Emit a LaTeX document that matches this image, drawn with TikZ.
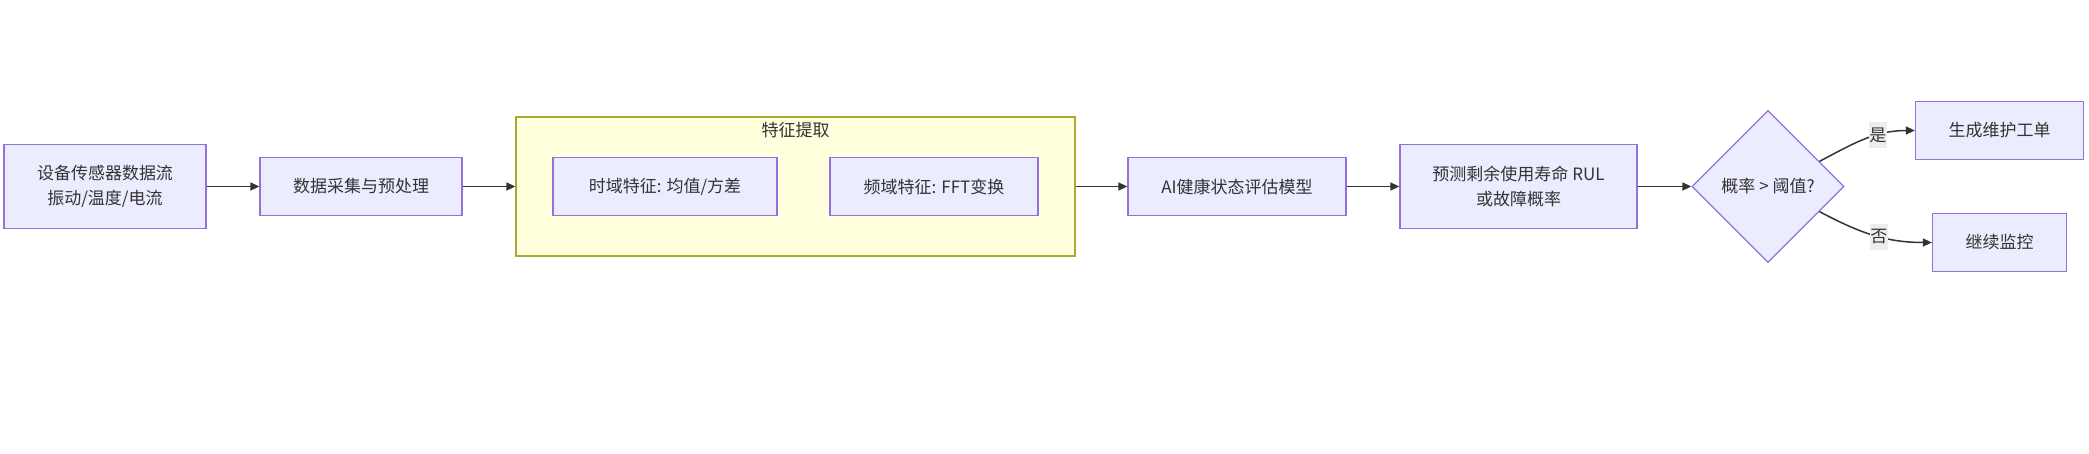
\documentclass[tikz,border=0pt]{standalone}
\usepackage{fontspec}
\setmainfont{Noto Sans CJK SC}
\usetikzlibrary{shapes.geometric,arrows.meta}
\definecolor{nodefill}{HTML}{ECECFF}
\definecolor{nodeline}{HTML}{9370DB}
\definecolor{groupfill}{HTML}{FFFFDE}
\definecolor{groupline}{HTML}{AAAA33}
\definecolor{linecol}{HTML}{333333}
\definecolor{labelfill}{HTML}{EDEDED}

\begin{document}
\begin{tikzpicture}[x=1pt,y=-1pt,
  every node/.style={font=\fontsize{17}{25}\selectfont,text=linecol},
  box/.style={draw=nodeline,fill=nodefill,line width=1.3pt,align=center,inner sep=0pt,minimum height=58pt},
  group/.style={draw=groupline,fill=groupfill,line width=1.3pt,inner sep=0pt},
  choice/.style={diamond,draw=nodeline,fill=nodefill,line width=1.3pt,inner sep=0pt,minimum width=152pt,minimum height=152pt},
  edge/.style={draw=linecol,line width=1.5pt,-{Triangle[length=9pt,width=8pt]}},
  lbl/.style={fill=labelfill,inner xsep=0.5pt,inner ysep=0pt,minimum height=26pt}]
  \useasboundingbox (0,0) rectangle (2089,454);

  % main row
  \node[box,minimum width=202pt,minimum height=84pt] (sensor) at (105,186.5) {设备传感器数据流\\振动/温度/电流};
  \node[box,minimum width=202pt] (prep) at (361,186.5) {数据采集与预处理};

  \node[group,minimum width=559pt,minimum height=139pt] (feat) at (795.5,186.5) {};
  \node (feattitle) at (795.5,130) {特征提取};
  \node[box,minimum width=224pt] (timef) at (665,186.5) {时域特征: 均值/方差};
  \node[box,minimum width=208pt] (freqf) at (934,186.5) {频域特征: FFT变换};

  \node[box,minimum width=218pt] (model) at (1237,186.5) {AI健康状态评估模型};
  \node[box,minimum width=237pt,minimum height=84pt] (rul) at (1518.5,186.5) {预测剩余使用寿命 RUL\\或故障概率};
  \node[choice] (check) at (1768,186.5) {概率 > 阈值?};
  \node[box,minimum width=168pt] (order) at (1999.5,130.5) {生成维护工单};
  \node[box,minimum width=134pt] (watch) at (1999.5,242.5) {继续监控};

  % connectors
  \draw[edge] (sensor) -- (prep);
  \draw[edge] (prep) -- (feat);
  \draw[edge] (feat) -- (model);
  \draw[edge] (model) -- (rul);
  \draw[edge] (rul) -- (check);
  \draw[edge] (check.26) to[out=28,in=180] node[lbl,pos=0.64] (yeslbl) {是} (order.west);
  \draw[edge] (check.-26) to[out=-28,in=180] node[lbl,pos=0.55] (nolbl) {否} (watch.west);
\end{tikzpicture}
\end{document}
